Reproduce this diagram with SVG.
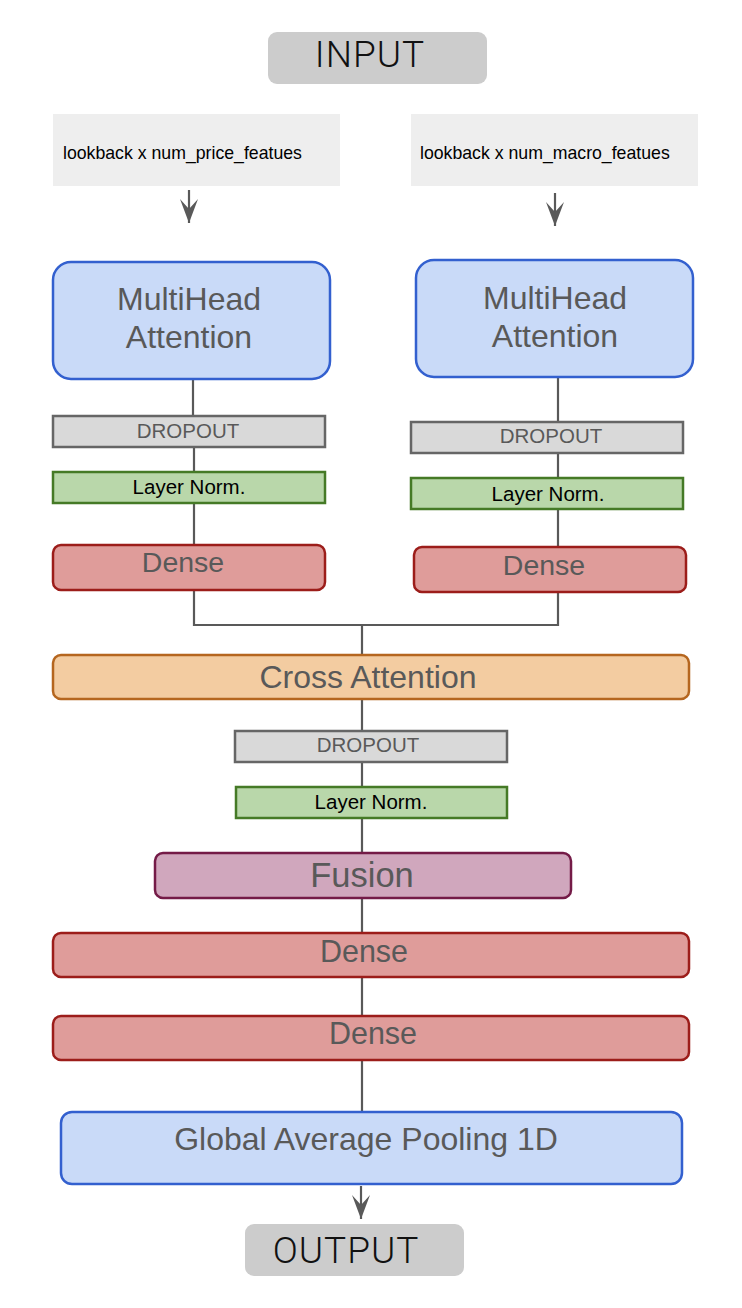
<svg xmlns="http://www.w3.org/2000/svg" width="742" height="1308" viewBox="0 0 742 1308">
<style>
.t{font-family:"Liberation Sans",Arial,sans-serif;fill:#595959;text-anchor:middle}
.io{font-family:Roboto,"Liberation Sans",sans-serif;font-weight:300;fill:#111;text-anchor:middle;letter-spacing:1px}
.sm{font-family:"Liberation Sans",Arial,sans-serif;fill:#000;font-size:17.7px}
.blk{fill:#000}
.gray{fill:#cccccc}
.feat{fill:#eeeeee}
.blue{fill:#c9daf8;stroke:#3360cf;stroke-width:2.5}
.drop{fill:#d9d9d9;stroke:#666666;stroke-width:2.5}
.ln{fill:#b9d7aa;stroke:#457a26;stroke-width:2.5}
.dense{fill:#df9c9a;stroke:#9c1d1a;stroke-width:2.5}
.cross{fill:#f3cca1;stroke:#b5661f;stroke-width:2.5}
.fus{fill:#d0a7bd;stroke:#741b47;stroke-width:2.5}
.con{fill:none;stroke:#595959;stroke-width:2.2}
</style>
<defs>
<marker id="arr" viewBox="-26 -10 28 20" refX="0" refY="0" markerWidth="28" markerHeight="20" markerUnits="userSpaceOnUse" orient="auto">
<path d="M0,0 L-24,-9 L-14,0 L-24,9 Z" fill="#595959"/>
</marker>
</defs>
<rect width="742" height="1308" fill="#ffffff"/>
<g id="connectors">
<path class="con" d="M193,379 V416 M194,447 V471 M194,503 V545 M194,590 V625 H558 V592 M558,547 V509 M558,478 V453 M558,422 V377"/>
<path class="con" d="M362,625 V655 M362,700 V731 M362,763 V787 M362,819 V853 M362,898 V933 M362,978 V1016 M362,1061 V1112"/>
<path class="con" d="M189,190 V223" marker-end="url(#arr)"/>
<path class="con" d="M555,193 V226" marker-end="url(#arr)"/>
<path class="con" d="M361,1186 V1219" marker-end="url(#arr)"/>
</g>
<g id="input">
<rect class="gray" x="268" y="32" width="219" height="52" rx="9"/>
<text class="io" x="370" y="67" font-size="37">INPUT</text>
</g>
<g id="price-features">
<rect class="feat" x="53" y="114" width="287" height="72"/>
<text class="sm" x="63" y="159">lookback x num_price_featues</text>
</g>
<g id="macro-features">
<rect class="feat" x="411" y="114" width="287" height="72"/>
<text class="sm" x="420" y="159">lookback x num_macro_featues</text>
</g>
<g id="mha-left">
<rect class="blue" x="53" y="262" width="277" height="117" rx="18"/>
<text class="t" x="189" y="310" font-size="32">MultiHead</text>
<text class="t" x="189" y="348" font-size="32">Attention</text>
</g>
<g id="mha-right">
<rect class="blue" x="416" y="260" width="277" height="117" rx="18"/>
<text class="t" x="555" y="309" font-size="32">MultiHead</text>
<text class="t" x="555" y="347" font-size="32">Attention</text>
</g>
<g id="dropout-left">
<rect class="drop" x="53" y="416" width="272" height="31"/>
<text class="t" x="188" y="438" font-size="20.5">DROPOUT</text>
</g>
<g id="layernorm-left">
<rect class="ln" x="53" y="472" width="272" height="31"/>
<text class="t blk" x="189" y="494" font-size="20.5">Layer Norm.</text>
</g>
<g id="dense-left">
<rect class="dense" x="53" y="545" width="272" height="45" rx="8"/>
<text class="t" x="183" y="572" font-size="28.5">Dense</text>
</g>
<g id="dropout-right">
<rect class="drop" x="411" y="422" width="272" height="31"/>
<text class="t" x="551" y="443" font-size="20.5">DROPOUT</text>
</g>
<g id="layernorm-right">
<rect class="ln" x="411" y="478" width="272" height="31"/>
<text class="t blk" x="548" y="501" font-size="20.5">Layer Norm.</text>
</g>
<g id="dense-right">
<rect class="dense" x="414" y="547" width="272" height="45" rx="8"/>
<text class="t" x="544" y="575" font-size="28.5">Dense</text>
</g>
<g id="cross-attention">
<rect class="cross" x="53" y="655" width="636" height="44" rx="8"/>
<text class="t" x="368" y="688" font-size="32">Cross Attention</text>
</g>
<g id="dropout-center">
<rect class="drop" x="235" y="731" width="272" height="31"/>
<text class="t" x="368" y="752" font-size="20.5">DROPOUT</text>
</g>
<g id="layernorm-center">
<rect class="ln" x="236" y="787" width="271" height="31"/>
<text class="t blk" x="371" y="809" font-size="20.5">Layer Norm.</text>
</g>
<g id="fusion">
<rect class="fus" x="155" y="853" width="416" height="45" rx="8"/>
<text class="t" x="362" y="887" font-size="34.5">Fusion</text>
</g>
<g id="dense-1">
<rect class="dense" x="53" y="933" width="636" height="44" rx="8"/>
<text class="t" x="364" y="962" font-size="30.5">Dense</text>
</g>
<g id="dense-2">
<rect class="dense" x="53" y="1016" width="636" height="44" rx="8"/>
<text class="t" x="373" y="1044" font-size="30.5">Dense</text>
</g>
<g id="global-average-pooling">
<rect class="blue" x="61" y="1112" width="621" height="72" rx="11"/>
<text class="t" x="366" y="1150" font-size="32">Global Average Pooling 1D</text>
</g>
<g id="output">
<rect class="gray" x="245" y="1224" width="219" height="52" rx="9"/>
<text class="io" x="346" y="1263" font-size="37">OUTPUT</text>
</g>
</svg>
